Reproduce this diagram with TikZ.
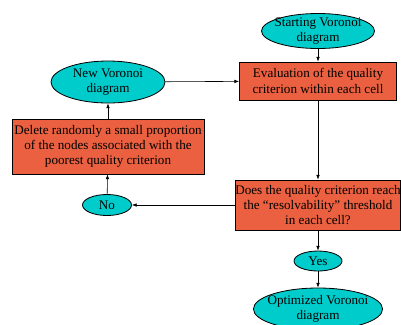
\documentclass[tikz,border=0pt]{standalone}
\usepackage{fontspec}
\setmainfont{Liberation Serif}
\usetikzlibrary{shapes.geometric,arrows.meta}

\definecolor{boxred}{HTML}{EA6040}
\definecolor{ovalcyan}{HTML}{00CCCC}

\tikzset{
  stagebox/.style={draw, fill=boxred, rectangle, align=center, inner sep=0pt,
    font=\fontsize{11.2}{13}\selectfont},
  stateoval/.style={draw, fill=ovalcyan, ellipse, align=center, inner xsep=-4pt, inner ysep=-1.5pt,
    font=\fontsize{11.2}{13}\selectfont},
  flow/.style={-{Latex[length=4pt,width=3pt]}, line width=0.5pt}
}

\begin{document}
\begin{tikzpicture}[x=0.03cm, y=-0.03cm, line width=0.7pt]
    \useasboundingbox (0,0) rectangle (401,324);

    % Ovals
    \node[stateoval, minimum width=3.39cm, minimum height=1.05cm] (start) at (318,31) {Starting Voronoi\\diagram};
    \node[stateoval, minimum width=3.42cm, minimum height=1.26cm] (newvor) at (108,82) {New Voronoi\\diagram};
    \node[stateoval, minimum width=1.47cm, minimum height=0.63cm] (no) at (107,205) {No};
    \node[stateoval, minimum width=1.44cm, minimum height=0.6cm] (yes) at (318,261) {Yes};
    \node[stateoval, minimum width=3.72cm, minimum height=1.26cm] (optim) at (318,309) {Optimized Voronoi\\diagram};

    % Boxes
    \node[stagebox, minimum width=4.71cm, minimum height=1.14cm] (evaluate) at (318,81) {Evaluation of the quality\\criterion within each cell};
    \node[stagebox, minimum width=5.76cm, minimum height=1.65cm] (delete) at (108,146.5) {Delete randomly a small proportion\\of the nodes associated with the\\poorest quality criterion};
    \node[stagebox, minimum width=4.83cm, minimum height=1.5cm] (decide) at (318,205) {Does the quality criterion reach\\the ``resolvability'' threshold\\in each cell?};

    % Connectors
    \draw[flow] (start) -- (evaluate);
    \draw[flow] (evaluate) -- (decide);
    \draw[flow] (decide) -- (no);
    \draw[flow] (no) -- (delete);
    \draw[flow] (delete) -- (newvor);
    \draw[flow] (newvor) -- (evaluate);
    \draw[flow] (decide) -- (yes);
    \draw[flow] (yes) -- (optim);
\end{tikzpicture}
\end{document}
